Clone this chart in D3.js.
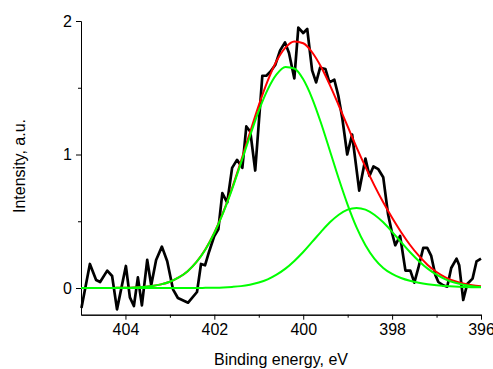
<!DOCTYPE html>
<html>
<head>
<meta charset="utf-8">
<script src="https://cdn.jsdelivr.net/npm/d3@7"></script>
<style>
  body { margin: 0; background: #fff; }
  svg { display: block; font-family: Arial, "Liberation Sans", sans-serif; }
</style>
</head>
<body>
<svg id="chart" width="493" height="369"></svg>
<script>
// measured spectrum (binding energy, intensity)
let dataEnergy = [404.99, 404.80, 404.66, 404.57, 404.41, 404.30, 404.19, 403.99, 403.90, 403.81,
  403.72, 403.63, 403.51, 403.42, 403.31, 403.18, 403.06, 402.93, 402.82, 402.59,
  402.39, 402.30, 402.21, 402.12, 402.00, 401.91, 401.82, 401.71, 401.60, 401.49,
  401.37, 401.28, 401.19, 401.08, 400.92, 400.83, 400.74, 400.63, 400.52, 400.41,
  400.32, 400.20, 400.11, 400.00, 399.91, 399.80, 399.71, 399.62, 399.50, 399.41,
  399.30, 399.21, 399.12, 399.01, 398.90, 398.74, 398.60, 398.51, 398.42, 398.31,
  398.20, 398.09, 398.00, 397.93, 397.82, 397.70, 397.59, 397.50, 397.41, 397.30,
  397.21, 397.12, 397.03, 396.96, 396.85, 396.76, 396.67, 396.55, 396.49, 396.40,
  396.31, 396.19, 396.10, 396.00]
let dataIntensity = [-0.15, 0.18, 0.06, 0.045, 0.13, 0.09, -0.16, 0.165, -0.07, -0.135,
  0.08, -0.13, 0.21, 0.02, 0.21, 0.31, 0.20, -0.01, -0.075, -0.11,
  -0.03, 0.18, 0.17, 0.27, 0.39, 0.44, 0.71, 0.64, 0.90, 0.96,
  0.90, 1.21, 1.17, 0.88, 1.59, 1.59, 1.62, 1.67, 1.78, 1.84,
  1.76, 1.57, 1.95, 1.91, 1.94, 1.63, 1.54, 1.65, 1.64, 1.54,
  1.56, 1.44, 1.27, 1.00, 1.15, 0.73, 0.97, 0.84, 0.91, 0.89,
  0.83, 0.55, 0.41, 0.32, 0.39, 0.13, 0.13, 0.04, 0.15, 0.30,
  0.30, 0.24, 0.10, 0.045, 0.02, 0.01, 0.15, 0.22, 0.17, -0.09,
  0.03, 0.07, 0.20, 0.22]

// fitted curves, sampled every 0.2 eV
let fitEnergy = [405.0, 404.8, 404.6, 404.4, 404.2, 404.0, 403.8, 403.6, 403.4, 403.2,
  403.0, 402.8, 402.6, 402.4, 402.2, 402.0, 401.8, 401.6, 401.4, 401.2,
  401.0, 400.8, 400.6, 400.4, 400.2, 400.0, 399.8, 399.6, 399.4, 399.2,
  399.0, 398.8, 398.6, 398.4, 398.2, 398.0, 397.8, 397.6, 397.4, 397.2,
  397.0, 396.8, 396.6, 396.4, 396.2, 396.0]
let peak1 = [0, 0, 0, 0, 0.001, 0.002, 0.004, 0.008, 0.015, 0.027,
  0.047, 0.079, 0.126, 0.195, 0.289, 0.412, 0.564, 0.741, 0.937, 1.137,
  1.327, 1.486, 1.600, 1.656, 1.644, 1.563, 1.421, 1.236, 1.028, 0.818,
  0.623, 0.454, 0.320, 0.220, 0.150, 0.105, 0.075, 0.054, 0.039, 0.028,
  0.020, 0.015, 0.011, 0.008, 0.006, 0.005]
let peak2 = [0, 0, 0, 0, 0, 0, 0, 0, 0, 0,
  0, 0, 0, 0, 0.001, 0.002, 0.004, 0.008, 0.014, 0.025,
  0.041, 0.065, 0.100, 0.145, 0.203, 0.270, 0.345, 0.421, 0.492, 0.549,
  0.587, 0.600, 0.587, 0.549, 0.492, 0.421, 0.345, 0.270, 0.203, 0.145,
  0.100, 0.065, 0.041, 0.025, 0.014, 0.008]
let envelope = [0, 0, 0, 0, 0.001, 0.002, 0.004, 0.008, 0.015, 0.027,
  0.047, 0.079, 0.126, 0.195, 0.290, 0.414, 0.568, 0.749, 0.951, 1.162,
  1.368, 1.551, 1.700, 1.801, 1.847, 1.833, 1.766, 1.657, 1.520, 1.367,
  1.210, 1.054, 0.907, 0.769, 0.642, 0.526, 0.420, 0.324, 0.242, 0.173,
  0.120, 0.080, 0.052, 0.033, 0.020, 0.013]

let xMajorTicks = [404, 402, 400, 398, 396]
let xMinorTicks = [403, 401, 399, 397]
let yMajorTicks = [0, 1, 2]
let yMinorTicks = [0.5, 1.5]

let svg = d3.select("#chart")

let xScale = d3.scaleLinear()
               .domain([405, 396])
               .range([81, 481])
let yScale = d3.scaleLinear()
               .domain([-0.2, 2])
               .range([314.7, 21])

//axes
let xAxis = d3.axisBottom(xScale)
              .tickValues(xMajorTicks)
              .tickFormat(d3.format("d"))
              .tickSize(5)
              .tickSizeOuter(0)
              .tickPadding(4)
let xMinor = d3.axisBottom(xScale)
               .tickValues(xMinorTicks)
               .tickFormat("")
               .tickSize(3)
               .tickSizeOuter(0)
let yAxis = d3.axisLeft(yScale)
              .tickValues(yMajorTicks)
              .tickFormat(d3.format("d"))
              .tickSize(5)
              .tickSizeOuter(0)
              .tickPadding(4)
let yMinor = d3.axisLeft(yScale)
               .tickValues(yMinorTicks)
               .tickFormat("")
               .tickSize(3)
               .tickSizeOuter(0)

let bottom = yScale(-0.2)
svg.append("g").attr("transform", `translate(0, ${bottom})`).call(xMinor)
svg.append("g").attr("transform", `translate(0, ${bottom})`).call(xAxis)
svg.append("g").attr("transform", `translate(81, 0)`).call(yMinor)
svg.append("g").attr("transform", `translate(81, 0)`).call(yAxis)

svg.selectAll(".tick text")
   .style("font-size", "16px")
   .style("font-family", "Arial, 'Liberation Sans', sans-serif")
   .attr("fill", "#000")
svg.selectAll(".domain, .tick line").attr("stroke", "#000")

//axis titles
svg.append("text")
   .attr("x", 281)
   .attr("y", 365)
   .attr("text-anchor", "middle")
   .style("font-size", "16px")
   .text("Binding energy, eV")
svg.append("text")
   .attr("transform", "translate(25, 166) rotate(-90)")
   .attr("text-anchor", "middle")
   .style("font-size", "16px")
   .text("Intensity, a.u.")

//lines
let toPoints = (xs, ys) => xs.map((x, i) => [x, ys[i]])
let rawLine = d3.line()
                .x((d) => xScale(d[0]))
                .y((d) => yScale(d[1]))
let smoothLine = d3.line()
                   .curve(d3.curveMonotoneX)
                   .x((d) => xScale(d[0]))
                   .y((d) => yScale(d[1]))

svg.append("path")
   .datum(toPoints(dataEnergy, dataIntensity))
   .attr("fill", "none")
   .attr("stroke", "#000")
   .attr("stroke-width", 2.7)
   .attr("stroke-linejoin", "round")
   .attr("d", rawLine)

svg.append("path")
   .datum(toPoints(fitEnergy, envelope))
   .attr("fill", "none")
   .attr("stroke", "#ff0000")
   .attr("stroke-width", 2)
   .attr("d", smoothLine)

let peaks = [peak1, peak2]
svg.selectAll(".peak")
   .data(peaks)
   .enter()
   .append("path")
   .attr("class", "peak")
   .attr("fill", "none")
   .attr("stroke", "#00ff00")
   .attr("stroke-width", 2)
   .attr("d", (d) => smoothLine(toPoints(fitEnergy, d)))
</script>
</body>
</html>
